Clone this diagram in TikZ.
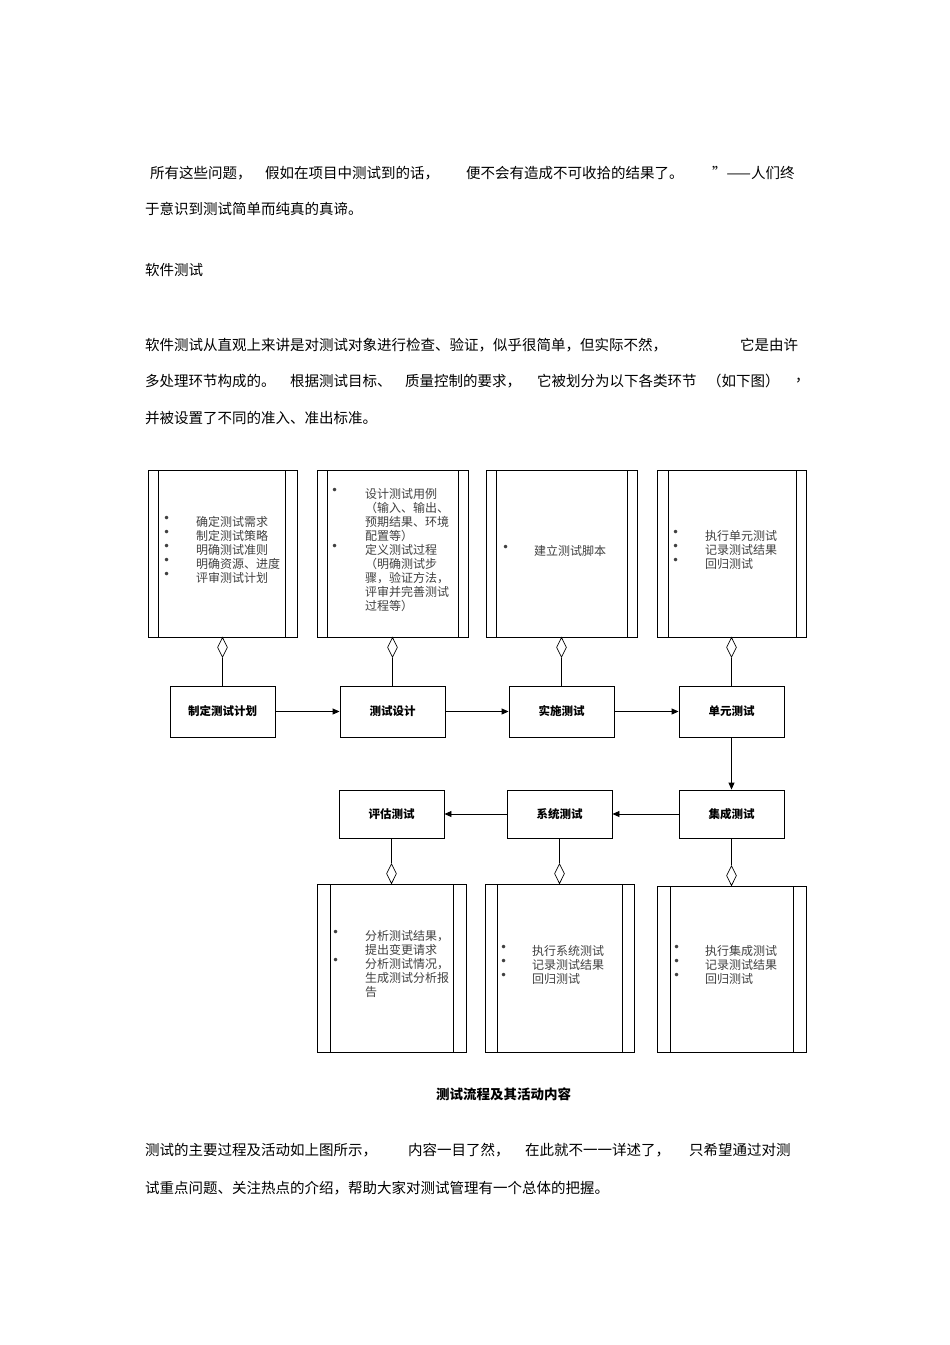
\documentclass[tikz,border=0pt]{standalone}
\usepackage{fontspec}
\setmainfont{Noto Sans CJK SC}
\newfontfamily\latf{DejaVu Sans}
\newcommand{\bl}{{\latf\textbullet}}
\usetikzlibrary{shapes.geometric,arrows.meta}
\begin{document}
\begin{tikzpicture}[x=1pt,y=-1pt,
  para/.style={anchor=west,inner sep=0,font=\fontsize{14.5}{15}\selectfont},
  btxt/.style={anchor=north west,inner sep=0,align=left,text=black!75,font=\fontsize{12}{14}\selectfont},
  proc/.style={draw,line width=0.9pt,minimum width=105pt,minimum height=51pt,font=\bfseries\fontsize{11.5}{12}\selectfont},
  dia/.style={draw,diamond,inner sep=0,minimum width=10pt,minimum height=20pt,fill=white,line width=0.7pt},
  arr/.style={-{Triangle[length=7pt,width=6pt]},line width=0.9pt},
  lnk/.style={line width=0.8pt}]
\useasboundingbox (0,0) rectangle (950,1345);
% paragraphs
\node[para] (p1) at (150,173) {所有这些问题，};
\node[para] (p2) at (265,173) {假如在项目中测试到的话，};
\node[para] (p3) at (466,173) {便不会有造成不可收拾的结果了。};
\node[para] (p4) at (712,173) {”——人们终};
\node[para] (p5) at (145,209) {于意识到测试简单而纯真的真谛。};
\node[para] (p6) at (145,270) {软件测试};
\node[para] (p7) at (145,345) {软件测试从直观上来讲是对测试对象进行检查、验证，似乎很简单，但实际不然，};
\node[para] (p8) at (740,345) {它是由许};
\node[para] (p9) at (145,381) {多处理环节构成的。};
\node[para] (p10) at (290,381) {根据测试目标、};
\node[para] (p11) at (405,381) {质量控制的要求，};
\node[para] (p12) at (537,381) {它被划分为以下各类环节};
\node[para] (p13) at (707,381) {（如下图）};
\node[para] (p14) at (795,381) {，};
\node[para] (p15) at (145,418) {并被设置了不同的准入、准出标准。};
\node[para,font=\bfseries\fontsize{13.5}{14}\selectfont] (cap) at (436,1094) {测试流程及其活动内容};
\node[para] (q1) at (145,1150) {测试的主要过程及活动如上图所示，};
\node[para] (q2) at (408,1150) {内容一目了然，};
\node[para] (q3) at (525,1150) {在此就不一一详述了，};
\node[para] (q4) at (689,1150) {只希望通过对测};
\node[para] (q5) at (145,1188) {试重点问题、关注热点的介绍，帮助大家对测试管理有一个总体的把握。};
% activity boxes
\foreach \n/\a/\b/\c/\d/\t/\u in {A/148/297/470/637/158/285, B/317/468/470/637/327/458, C/486/637/470/637/496/627, D/657/806/470/637/668/796,
  E/317/466/884/1052/330/453, F/485/634/884/1052/497/622, G/657/806/886/1052/670/793}{
  \draw[line width=1pt] (\a,\c) rectangle (\b,\d);
  \draw[line width=0.8pt] (\t,\c) -- (\t,\d) (\u,\c) -- (\u,\d);
  \coordinate (\n top) at ({(\a+\b)/2},\c);
  \coordinate (\n bot) at ({(\a+\b)/2},\d);
}
% box texts
\node[btxt] (ta) at (163,516) {\bl\\\bl\\\bl\\\bl\\\bl};
\node[btxt] (tA) at (196,516) {确定测试需求\\制定测试策略\\明确测试准则\\明确资源、进度\\评审测试计划};
\node[btxt] (tb) at (331,488) {\bl\\ \\ \\ \\\bl};
\node[btxt] (tB) at (365,488) {设计测试用例\\（输入、输出、\\预期结果、环境\\配置等）\\定义测试过程\\（明确测试步\\骤，验证方法，\\评审并完善测试\\过程等）};
\node[btxt] (tc) at (502,545) {\bl};
\node[btxt] (tC) at (534,545) {建立测试脚本};
\node[btxt] (td) at (672,530) {\bl\\\bl\\\bl};
\node[btxt] (tD) at (705,530) {执行单元测试\\记录测试结果\\回归测试};
\node[btxt] (te) at (332,930) {\bl\\ \\\bl};
\node[btxt] (tE) at (365,930) {分析测试结果，\\提出变更请求\\分析测试情况，\\生成测试分析报\\告};
\node[btxt] (tf) at (500,945) {\bl\\\bl\\\bl};
\node[btxt] (tF) at (532,945) {执行系统测试\\记录测试结果\\回归测试};
\node[btxt] (tg) at (673,945) {\bl\\\bl\\\bl};
\node[btxt] (tG) at (705,945) {执行集成测试\\记录测试结果\\回归测试};
% process boxes
\node[proc] (s1) at (222.5,711.5) {制定测试计划};
\node[proc] (s2) at (392.5,711.5) {测试设计};
\node[proc] (s3) at (561.5,711.5) {实施测试};
\node[proc] (s4) at (731.5,711.5) {单元测试};
\node[proc,minimum height=48pt] (s5) at (731.5,814) {集成测试};
\node[proc,minimum height=48pt] (s6) at (559.5,814) {系统测试};
\node[proc,minimum height=48pt] (s7) at (391.5,814) {评估测试};
\draw[arr] (s1) -- (s2);
\draw[arr] (s2) -- (s3);
\draw[arr] (s3) -- (s4);
\draw[arr] (s4) -- (s5);
\draw[arr] (s5) -- (s6);
\draw[arr] (s6) -- (s7);
% aggregation diamonds
\foreach \bx/\sx in {A/s1,B/s2,C/s3,D/s4}{
  \node[dia,anchor=north] (d\bx) at (\bx bot) {};
  \draw[lnk] (d\bx.south) -- (\sx.north);
}
\foreach \bx/\sx in {E/s7,F/s6,G/s5}{
  \node[dia,anchor=south] (d\bx) at (\bx top) {};
  \draw[lnk] (d\bx.north) -- (\sx.south);
}
\end{tikzpicture}
\end{document}
